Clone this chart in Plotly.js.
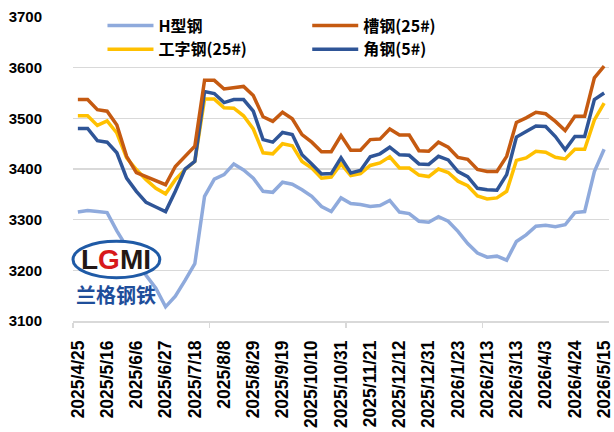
<!DOCTYPE html>
<html><head><meta charset="utf-8">
<script src="https://cdn.plot.ly/plotly-3.0.1.min.js"></script>
<style>html,body{margin:0;padding:0;background:#fff}#chart{width:614px;height:432px}</style>
</head><body><div id="chart"></div>
<script>
const dates = ["2025/4/25","2025/5/2","2025/5/9","2025/5/16","2025/5/23","2025/5/30","2025/6/6","2025/6/13","2025/6/20","2025/6/27",
"2025/7/4","2025/7/11","2025/7/18","2025/7/25","2025/8/1","2025/8/8","2025/8/15","2025/8/22","2025/8/29","2025/9/5",
"2025/9/12","2025/9/19","2025/9/26","2025/10/3","2025/10/10","2025/10/17","2025/10/24","2025/10/31","2025/11/7","2025/11/14",
"2025/11/21","2025/11/28","2025/12/5","2025/12/12","2025/12/19","2025/12/26","2025/12/31","2026/1/9","2026/1/16","2026/1/23",
"2026/1/30","2026/2/6","2026/2/13","2026/2/27","2026/3/6","2026/3/13","2026/3/20","2026/3/27","2026/4/3","2026/4/10",
"2026/4/17","2026/4/24","2026/4/30","2026/5/8","2026/5/15"];
const hSteel = [3315,3318,3316,3314,3278,3245,3215,3190,3165,3128,3149,3180,3213,3346,3380,3389,3410,3398,3382,3356,
3354,3374,3370,3359,3346,3326,3316,3343,3332,3330,3326,3328,3338,3315,3312,3297,3295,3306,3297,3277,
3253,3234,3226,3228,3220,3257,3270,3287,3289,3286,3290,3314,3316,3395,3439];
const channel = [3537,3537,3517,3514,3487,3425,3393,3385,3376,3369,3405,3425,3445,3575,3575,3558,3560,3563,3545,3503,
3494,3512,3499,3468,3453,3434,3434,3466,3437,3437,3458,3459,3479,3467,3467,3436,3435,3453,3443,3423,
3419,3399,3395,3395,3425,3492,3501,3512,3509,3494,3476,3504,3504,3580,3603];
const iBeam = [3505,3505,3486,3495,3471,3422,3399,3379,3362,3351,3379,3399,3415,3538,3538,3521,3520,3505,3479,3432,
3430,3450,3446,3415,3402,3382,3384,3410,3387,3391,3407,3412,3424,3402,3402,3388,3385,3400,3393,3376,
3367,3347,3341,3343,3356,3417,3422,3435,3433,3423,3420,3439,3439,3497,3530];
const angle = [3480,3480,3456,3453,3432,3382,3356,3334,3325,3316,3356,3400,3415,3553,3549,3531,3537,3537,3514,3458,
3453,3472,3468,3428,3410,3390,3391,3422,3392,3397,3424,3430,3443,3428,3427,3410,3409,3425,3418,3395,
3385,3362,3359,3358,3389,3463,3474,3485,3484,3464,3438,3464,3464,3537,3550];
const seriesNames = ["H型钢","槽钢(25#)","工字钢(25#)","角钢(5#)"];
const yTicks = [3100,3200,3300,3400,3500,3600,3700];

const xIdx = dates.map((d,i)=>i);
const labelIdx = xIdx.filter(i=>i%3===0);
const labelText = labelIdx.map(i=>dates[i]);

const colors = ["#8FAADC","#C55A11","#FFC000","#2F5597"];
const data = [hSteel, channel, iBeam, angle];
const legendOf = ["legend","legend2","legend","legend2"];
const traces = [0,1,2,3].map(k=>({
  x:xIdx, y:data[k], name:seriesNames[k], type:'scatter', mode:'lines',
  line:{color:colors[k], width:3.5}, hoverinfo:'skip', legend:legendOf[k], legendrank:k+1
}));
// draw order: light blue first, then yellow, navy, orange on top
const plotTraces = [0,2,3,1].map(k=>traces[k]);

const font = "'Liberation Sans', Arial, 'Noto Sans CJK SC', sans-serif";
const legFont = {family:"'Noto Sans CJK SC', 'Liberation Sans', sans-serif", size:16, weight:'bold', color:'#000'};
const legBase = {orientation:'v', xanchor:'left', y:1.028, yanchor:'top', bgcolor:'rgba(0,0,0,0)',
  font:legFont, itemwidth:46, traceorder:'normal', tracegroupgap:0};
const layout = {
  width:614, height:432,
  margin:{l:73, r:5, t:17, b:111},
  paper_bgcolor:'#fff', plot_bgcolor:'#fff',
  font:{family:font, color:'#000'},
  showlegend:true,
  legend:Object.assign({}, legBase, {x:0.055}),
  legend2:Object.assign({}, legBase, {x:0.437}),
  xaxis:{type:'linear', range:[-0.5, dates.length-0.5], tickmode:'array', tickvals:labelIdx, ticktext:labelText,
    tickangle:-90, ticks:'', showgrid:false, zeroline:false, showline:true, linecolor:'#D9D9D9', linewidth:1.5,
    ticklabelstandoff:11, ticklabeloverflow:'allow',
    tickfont:{family:font, size:17.5, weight:'bold', color:'#000'},
    minor:{tickmode:'array', tickvals:[-0.5,13.5,27.5,41.5], ticks:'outside', ticklen:5, tickwidth:1.5, tickcolor:'#D9D9D9', showgrid:false}},
  yaxis:{range:[3100,3700], tickmode:'array', tickvals:yTicks, ticks:'', showgrid:true, gridcolor:'#D9D9D9', gridwidth:1.5,
    zeroline:false, showline:false, ticklabelstandoff:30,
    tickfont:{family:font, size:15, weight:'bold', color:'#000'}},
  shapes:[
    {type:'circle', xref:'paper', yref:'paper', x0:0.0, x1:0.162, y0:0.142, y1:0.262,
     line:{color:'#1F5AA6', width:3}, fillcolor:'#fff', layer:'above'}
  ],
  annotations:[
    {xref:'paper', yref:'paper', x:0.081, y:0.202, xanchor:'center', yanchor:'middle', showarrow:false,
     text:"<b><span style='color:#231815'>L</span><span style='color:#D7191C'>G</span><span style='color:#231815'>MI</span></b>",
     font:{family:"'Liberation Sans', Arial, sans-serif", size:28}},
    {xref:'paper', yref:'paper', x:0.08, y:0.086, xanchor:'center', yanchor:'middle', showarrow:false,
     text:"<b>兰格钢铁</b>", font:{family:"'Noto Sans CJK SC', sans-serif", size:20, color:'#1F4E9A'}}
  ]
};
Plotly.newPlot('chart', plotTraces, layout, {displayModeBar:false, staticPlot:true});
</script></body></html>
